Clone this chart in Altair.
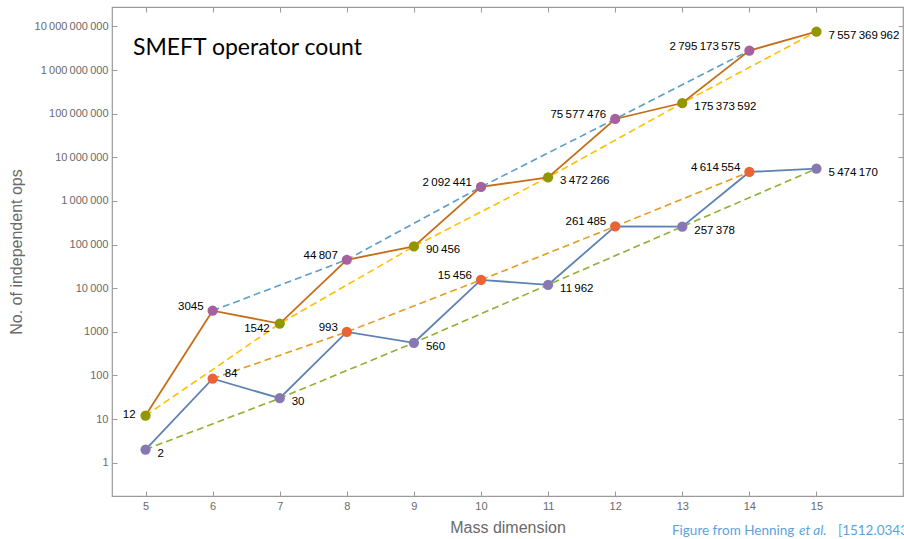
import altair as alt
import pandas as pd

# ---------------- data ----------------
DIMS = [5, 6, 7, 8, 9, 10, 11, 12, 13, 14, 15]
UPPER = [12, 3045, 1542, 44807, 90456, 2092441, 3472266, 75577476,
         175373592, 2795173575, 7557369962]
LOWER = [2, 84, 30, 993, 560, 15456, 11962, 261485, 257378, 4614554, 5474170]
Y_TICKS = [1, 10, 100, 1000, 10000, 100000, 1000000, 10000000,
           100000000, 1000000000, 10000000000]
X_TICKS = [5, 6, 7, 8, 9, 10, 11, 12, 13, 14, 15]
TITLE = "SMEFT operator count"
X_TITLE = "Mass dimension"
Y_TITLE = "No. of independent ops"
CAPTION = ["Figure from Henning", "et al.", "[1512.03433]"]

THIN = "\u2009"


def fmt(n):
    if n < 10000:
        return str(n)
    return f"{n:,}".replace(",", THIN)


rows = []
for s, vals in (("upper", UPPER), ("lower", LOWER)):
    for d, v in zip(DIMS, vals):
        par = "even" if d % 2 == 0 else "odd"
        rows.append({"d": d, "v": v, "s": s, "grp": f"{s}-{par}", "lab": fmt(v)})
df = pd.DataFrame(rows)

# label placement (style): left/right of point, above/below
LEFT_ABOVE = {("upper", 6), ("upper", 8), ("upper", 10), ("upper", 12), ("upper", 14),
              ("lower", 8), ("lower", 10), ("lower", 12), ("lower", 14)}
LEFT_MID = {("upper", 5)}
LEFT_BELOW = {("upper", 7)}
RIGHT_ABOVE = {("lower", 6)}


def place(r):
    k = (r["s"], r["d"])
    if k in LEFT_ABOVE:
        return "la"
    if k in LEFT_MID:
        return "lm"
    if k in LEFT_BELOW:
        return "lb"
    if k in RIGHT_ABOVE:
        return "ra"
    return "rb"


df["pl"] = df.apply(place, axis=1)

FRAME = "#9a9a9a"
TXT_GRAY = "#6a6a6a"

xdom = [4.5, 16.29]
ydom = [10 ** -0.764, 10 ** 10.445]

xs = alt.Scale(domain=xdom, nice=False, zero=False)
ys = alt.Scale(type="log", domain=ydom, nice=False)

label_expr = ("datum.value >= 10000 ? replace(format(datum.value, ','), regexp(',', 'g'), '\u2009')"
              " : format(datum.value, 'd')")

x_axis = alt.Axis(values=X_TICKS, format="d", domain=False, grid=False, offset=-5,
                  tickSize=5, tickColor=FRAME, labelPadding=4, labelColor=TXT_GRAY,
                  labelFontSize=11, labelFont="Liberation Sans", title=X_TITLE,
                  titleFont="Liberation Sans", titleFontSize=16, titleFontWeight="normal",
                  titleColor=TXT_GRAY, titlePadding=8)
y_axis = alt.Axis(values=Y_TICKS, labelExpr=label_expr, domain=False, grid=False, offset=-5,
                  tickSize=5, tickColor=FRAME, labelPadding=4, labelColor=TXT_GRAY,
                  labelFontSize=11, labelFont="Liberation Sans", title=Y_TITLE,
                  titleFont="Liberation Sans", titleFontSize=16, titleFontWeight="normal",
                  titleColor=TXT_GRAY, titlePadding=10)
x_top = alt.Axis(values=X_TICKS, orient="top", labels=False, domain=False, grid=False,
                 offset=-5, tickSize=5, tickColor=FRAME, title=None)
y_right = alt.Axis(values=Y_TICKS, orient="right", labels=False, domain=False, grid=False,
                   offset=-5, tickSize=5, tickColor=FRAME, title=None)

base = alt.Chart(df)

axes_main = base.mark_point(opacity=0).encode(
    x=alt.X("d:Q", scale=xs, axis=x_axis),
    y=alt.Y("v:Q", scale=ys, axis=y_axis),
)
axes_mirror = base.mark_point(opacity=0).encode(
    x=alt.X("d:Q", scale=xs, axis=x_top),
    y=alt.Y("v:Q", scale=ys, axis=y_right),
)

X = alt.X("d:Q", scale=xs, axis=None)
Y = alt.Y("v:Q", scale=ys, axis=None)

dashed = base.mark_line(strokeDash=[7, 4], strokeWidth=1.6).encode(
    x=X, y=Y,
    color=alt.Color("grp:N", legend=None, scale=alt.Scale(
        domain=["upper-even", "upper-odd", "lower-even", "lower-odd"],
        range=["#5D9EC7", "#FFBF00", "#E19C24", "#8FB032"])),
    detail="grp:N", order="d:Q",
)
solid = base.mark_line(strokeWidth=1.8).encode(
    x=X, y=Y,
    color=alt.Color("s:N", legend=None, scale=alt.Scale(
        domain=["upper", "lower"], range=["#C56E1A", "#5E81B5"])),
    detail="s:N", order="d:Q",
)
points = base.mark_circle(size=105, opacity=1).encode(
    x=X, y=Y,
    color=alt.Color("grp:N", legend=None, scale=alt.Scale(
        domain=["upper-even", "upper-odd", "lower-even", "lower-odd"],
        range=["#A5609D", "#929600", "#EB6235", "#8778B3"])),
)

txt_kw = dict(font="Liberation Sans", fontSize=11.5, color="black")
labels = []
for code, align, dx, dy in (("la", "right", -9, -4), ("lm", "right", -10, -1),
                            ("lb", "right", -10, 5), ("ra", "left", 12, -5),
                            ("rb", "left", 12, 4)):
    labels.append(base.transform_filter(alt.datum.pl == code).mark_text(
        align=align, baseline="middle", dx=dx, dy=dy, **txt_kw).encode(
        x=X, y=Y, text="lab:N"))

title = alt.Chart(pd.DataFrame({"t": [TITLE]})).mark_text(
    align="left", baseline="alphabetic", font="Lato", fontSize=23, color="black"
).encode(text="t:N", x=alt.value(21), y=alt.value(48))

cap_color = "#5ca3dd"
cap_kw = dict(align="left", baseline="alphabetic", font="Lato", fontSize=13.5, color=cap_color)
cap1 = alt.Chart(pd.DataFrame({"t": [CAPTION[0]]})).mark_text(**cap_kw).encode(
    text="t:N", x=alt.value(560), y=alt.value(528))
cap2 = alt.Chart(pd.DataFrame({"t": [CAPTION[1]]})).mark_text(
    fontStyle="italic", **cap_kw).encode(text="t:N", x=alt.value(687), y=alt.value(528))
cap3 = alt.Chart(pd.DataFrame({"t": [CAPTION[2]]})).mark_text(**cap_kw).encode(
    text="t:N", x=alt.value(726), y=alt.value(528))

chart = alt.layer(
    axes_main, axes_mirror, dashed, solid, points, *labels, title, cap1, cap2, cap3
).resolve_scale(color="independent").resolve_axis(
    x="independent", y="independent"
).properties(
    width=791, height=489,
    autosize=alt.AutoSizeParams(type="none"),
    padding={"left": 112, "top": 7, "right": 1, "bottom": 43},
).configure_view(stroke=FRAME, strokeWidth=1.2)

chart.save("out.html", embed_options={"renderer": "svg", "actions": False})
